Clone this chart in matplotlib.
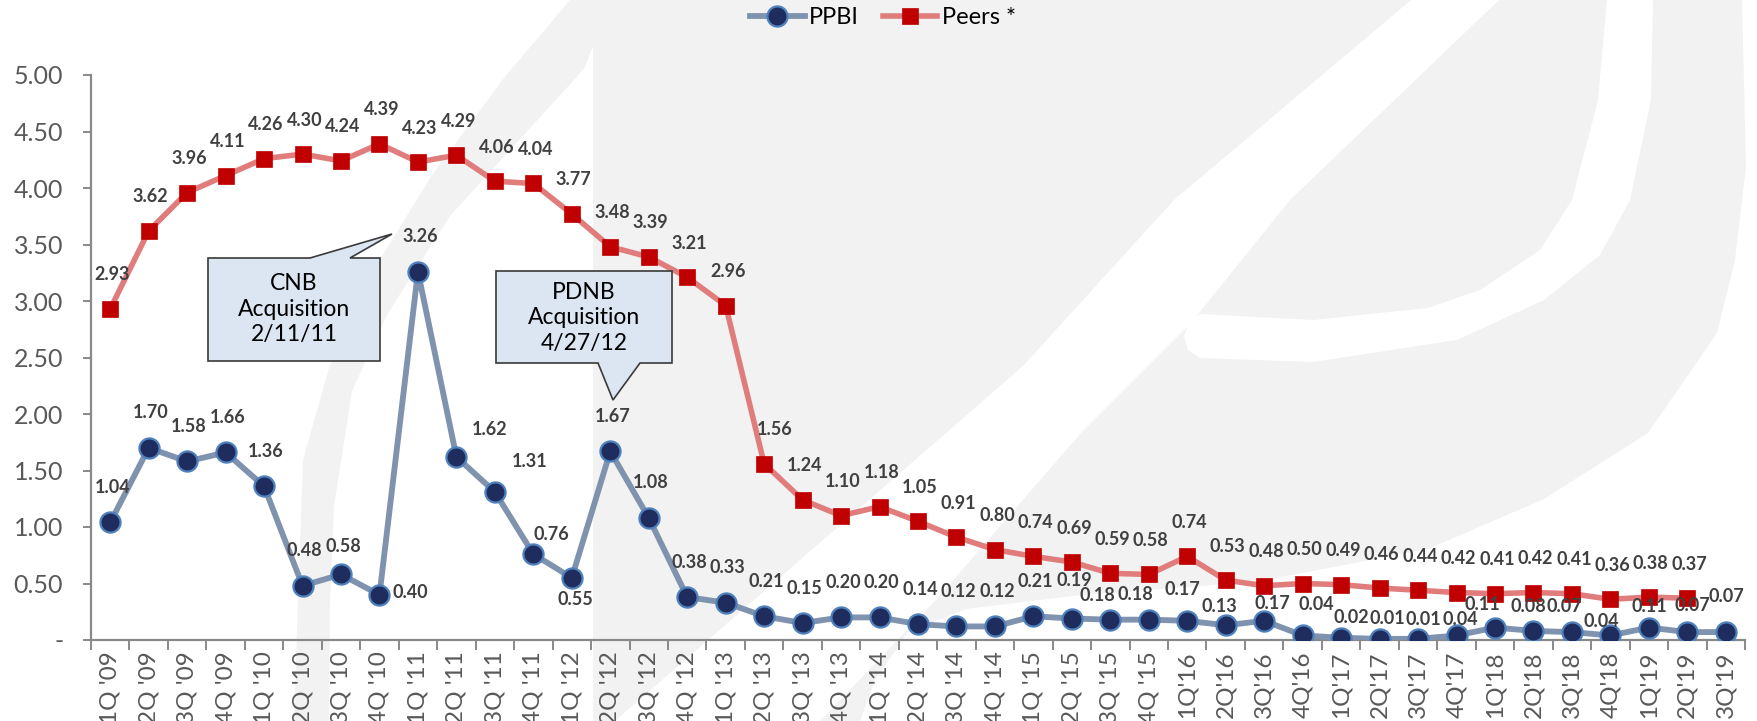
import matplotlib
matplotlib.use("Agg")
import matplotlib.pyplot as plt
from matplotlib.patches import Polygon

# ---------------- data ----------------
quarters = ["1Q '09", "2Q '09", "3Q '09", "4Q '09",
            "1Q '10", "2Q '10", "3Q '10", "4Q '10",
            "1Q '11", "2Q '11", "3Q '11", "4Q '11",
            "1Q '12", "2Q '12", "3Q '12", "4Q '12",
            "1Q '13", "2Q '13", "3Q '13", "4Q '13",
            "1Q '14", "2Q '14", "3Q '14", "4Q '14",
            "1Q '15", "2Q '15", "3Q '15", "4Q '15",
            "1Q'16", "2Q'16", "3Q'16", "4Q'16",
            "1Q'17", "2Q'17", "3Q'17", "4Q'17",
            "1Q'18", "2Q'18", "3Q'18", "4Q'18",
            "1Q'19", "2Q'19", "3Q'19"]

ppbi = [1.04, 1.70, 1.58, 1.66, 1.36, 0.48, 0.58, 0.40, 3.26, 1.62, 1.31, 0.76,
        0.55, 1.67, 1.08, 0.38, 0.33, 0.21, 0.15, 0.20, 0.20, 0.14, 0.12, 0.12,
        0.21, 0.19, 0.18, 0.18, 0.17, 0.13, 0.17, 0.04, 0.02, 0.01, 0.01, 0.04,
        0.11, 0.08, 0.07, 0.04, 0.11, 0.07, 0.07]

peers = [2.93, 3.62, 3.96, 4.11, 4.26, 4.30, 4.24, 4.39, 4.23, 4.29, 4.06, 4.04,
         3.77, 3.48, 3.39, 3.21, 2.96, 1.56, 1.24, 1.10, 1.18, 1.05, 0.91, 0.80,
         0.74, 0.69, 0.59, 0.58, 0.74, 0.53, 0.48, 0.50, 0.49, 0.46, 0.44, 0.42,
         0.41, 0.42, 0.41, 0.36, 0.38, 0.37]

y_ticks = [0, 0.5, 1.0, 1.5, 2.0, 2.5, 3.0, 3.5, 4.0, 4.5, 5.0]
y_ticklabels = ["-", "0.50", "1.00", "1.50", "2.00", "2.50", "3.00", "3.50",
                "4.00", "4.50", "5.00"]

series_names = ["PPBI", "Peers *"]
callout_texts = ["CNB\nAcquisition\n2/11/11", "PDNB\nAcquisition\n4/27/12"]

# ---------------- style ----------------
W, H = 1757, 721
FONT = "Lato"
plt.rcParams["font.family"] = [FONT, "DejaVu Sans"]

fig = plt.figure(figsize=(W / 100, H / 100), dpi=100)
fig.patch.set_facecolor("white")


def fp(px, py):
    return (px / W, 1 - py / H)


# faint background watermark (decorative logo shapes, figure pixels)
WM = "#F2F2F2"
wm_left = [(294, 721), (298, 600), (303, 460), (329, 368), (370, 276), (432, 175),
           (504, 78), (570, 0), (1411, 0), (1174, 200), (1023, 366), (908, 466),
           (754, 600), (615, 721), (593, 721), (593, 46), (584, 69), (521, 138),
           (450, 216), (388, 313), (352, 391), (334, 506), (330, 600), (329, 721)]
wm_right = [(1499, 0), (1742, 0), (1746, 167), (1735, 260), (1717, 333), (1648, 433),
            (1544, 499), (1428, 549), (1255, 582), (1081, 595), (966, 609),
            (908, 632), (875, 680), (860, 721), (820, 721), (936, 600), (1081, 433),
            (1191, 323), (1290, 200)]
wm_curve = [(1200, 314), (1313, 320), (1428, 308), (1480, 290), (1540, 250),
            (1572, 200), (1598, 100), (1607, 0), (1653, 0), (1651, 100), (1630, 200),
            (1600, 255), (1544, 300), (1457, 340), (1313, 362), (1200, 358),
            (1188, 350), (1184, 336), (1190, 320)]
for shape, col in [(wm_left, WM), (wm_right, WM), (wm_curve, "white")]:
    fig.add_artist(Polygon([fp(*p) for p in shape], closed=True, facecolor=col,
                           edgecolor="none", transform=fig.transFigure, zorder=-5))

ax = fig.add_axes([91 / W, 1 - 640 / H, (1745 - 91) / W, (640 - 75) / H])
ax.set_facecolor("none")
ax.set_zorder(1)

x_ppbi = list(range(len(ppbi)))
x_peers = list(range(len(peers)))

ln1, = ax.plot(x_ppbi, ppbi, color="#7F93AE", lw=4.2, marker="o", ms=14.5,
               mfc="#1F2D5E", mec="#4F81BD", mew=1.6, zorder=3, label=series_names[0])
ln2, = ax.plot(x_peers, peers, color="#E07C7C", lw=4.0, marker="s", ms=11,
               mfc="#C00000", mec="#C00000", mew=0.5, zorder=3, label=series_names[1])

ax.set_xlim(-0.5, len(quarters) - 0.5)
ax.set_ylim(0, 5.0)

ax.set_yticks(y_ticks)
ax.set_yticklabels(y_ticklabels)
ax.set_xticks(x_ppbi)
ax.set_xticklabels(quarters, rotation=90)
ax.set_xticks([i - 0.5 for i in range(len(quarters) + 1)], minor=True)

for s in ["top", "right"]:
    ax.spines[s].set_visible(False)
for s in ["left", "bottom"]:
    ax.spines[s].set_color("#898989")
    ax.spines[s].set_linewidth(1.6)

ax.tick_params(axis="y", length=6, width=1.4, color="#898989", pad=14,
               labelsize=18, labelcolor="#595959")
ax.tick_params(axis="x", which="major", length=0, pad=8, labelsize=17.5,
               labelcolor="#595959")
ax.tick_params(axis="x", which="minor", length=7, width=1.4, color="#898989")

# ---------------- data labels ----------------
label_kw = dict(textcoords="offset pixels", ha="center", va="center",
                fontsize=13, fontweight="bold", color="#404040", zorder=5)

ppbi_offsets = {i: (2, 35) for i in range(len(ppbi))}
ppbi_offsets.update({6: (2, 28), 7: (31, 2), 9: (33, 27), 10: (35, 30), 11: (18, 20),
                     12: (4, -22), 25: (2, 38), 26: (-13, 24), 27: (-13, 25),
                     28: (-5, 31), 29: (-6, 19), 30: (8, 17), 31: (14, 31),
                     32: (10, 20), 33: (8, 20), 34: (5, 19), 35: (4, 16),
                     36: (-13, 23), 37: (-5, 24), 38: (-8, 26), 39: (-9, 14),
                     40: (1, 21), 41: (5, 27), 42: (1, 36)})
peers_offsets = {i: (2, 34) for i in range(len(peers))}
peers_offsets.update({17: (11, 34)})

for i, v in enumerate(ppbi):
    ax.annotate(f"{v:.2f}", (i, v), xytext=ppbi_offsets[i], **label_kw)
for i, v in enumerate(peers):
    ax.annotate(f"{v:.2f}", (i, v), xytext=peers_offsets[i], **label_kw)

# ---------------- legend ----------------
fig.legend(handles=[ln1, ln2], labels=series_names, loc="center",
           bbox_to_anchor=(883 / W, 1 - 18 / H), ncol=2, frameon=False,
           fontsize=17, handlelength=2.3, handletextpad=0.2, columnspacing=1.0)

# ---------------- callouts ----------------
cnb_shape = [fp(208, 258), fp(310, 258), fp(392, 234), fp(350, 258), fp(380, 258),
             fp(380, 361), fp(208, 361)]
pdnb_shape = [fp(496, 271), fp(672, 271), fp(672, 363), fp(640, 363), fp(613, 400),
              fp(598, 363), fp(496, 363)]
for shape, txt, cx, cy in [(cnb_shape, callout_texts[0], 294, 309),
                           (pdnb_shape, callout_texts[1], 584, 318)]:
    fig.add_artist(Polygon(shape, closed=True, facecolor="#DCE6F2",
                           edgecolor="#3A3A3A", lw=1.2, transform=fig.transFigure,
                           zorder=6))
    fig.text(cx / W, 1 - cy / H, txt, ha="center", va="center", fontsize=16.5,
             color="black", linespacing=1.25, zorder=7)

fig.savefig("out.png", dpi=100)
